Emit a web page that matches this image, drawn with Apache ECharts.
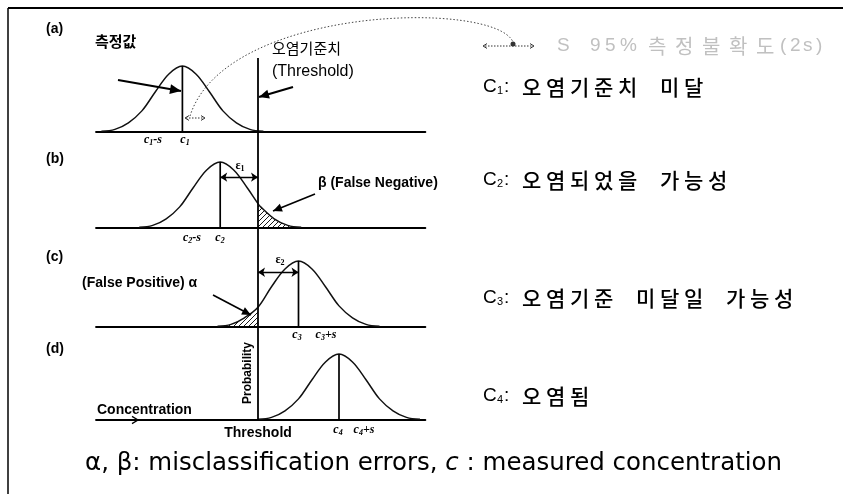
<!DOCTYPE html>
<html><head><meta charset="utf-8">
<script src="https://cdn.jsdelivr.net/npm/echarts@6/dist/echarts.min.js"></script>
<style>html,body{margin:0;padding:0;background:#fff}#c{width:843px;height:494px}</style>
</head><body><div id="c"></div>
<script>
// ---- DATA (x: concentration in units of s, threshold = 0; y: relative probability, peak = 1) ----
const curveA_x = [-5.8,-5.3,-4.8,-4.3,-3.8,-3.3,-2.8,-2.3,-1.8,-1.3,-0.8,-0.3,0.2];
const curveA_y = [0.01,0.04,0.14,0.32,0.61,0.88,1.00,0.88,0.61,0.32,0.14,0.04,0.01];
const curveB_x = [-4.4,-3.9,-3.4,-2.9,-2.4,-1.9,-1.4,-0.9,-0.4,0,0.1,0.6,1.1,1.6];
const curveB_y = [0.01,0.04,0.14,0.32,0.61,0.88,1.00,0.88,0.61,0.37,0.32,0.14,0.04,0.01];
const curveC_x = [-1.5,-1.0,-0.5,0,0.5,1.0,1.5,2.0,2.5,3.0,3.5,4.0,4.5];
const curveC_y = [0.01,0.04,0.14,0.30,0.61,0.88,1.00,0.88,0.61,0.32,0.14,0.04,0.01];
const curveD_x = [0,0.5,1.0,1.5,2.0,2.5,3.0,3.5,4.0,4.5,5.0,5.5,6.0];
const curveD_y = [0.01,0.04,0.14,0.32,0.61,0.88,1.00,0.88,0.61,0.32,0.14,0.04,0.01];
const centers = [-2.8,-1.4,1.5,3.0];      // c1..c4
const peakValue = 1.0;
const threshold = 0;
const eps1 = {from:-1.4, to:0, level:0.77};
const eps2 = {from:0, to:1.5, level:0.83};
const panelLabels = ['(a)','(b)','(c)','(d)'];
const caseLabels = [
  {n:'1', text:'오염기준치 미달'},
  {n:'2', text:'오염되었을 가능성'},
  {n:'3', text:'오염기준 미달일 가능성'},
  {n:'4', text:'오염됨'}
];
const uncertaintyLabel = ['S',' ','9','5','%','측','정','불','확','도','(','2','s',')'];
const noteText = ['α, β: misclassification errors, ', 'c', ' : measured concentration'];

// ---- LAYOUT ----
const gridTops = [58,132,228,327];
const baselines = [132,228,327,420];
const pxPerUnit = 66;
const GL = 96, GW = 329.4;

const pairs = (xs, ys) => xs.map((x,i)=>[x, ys[i]]);
const curves = [pairs(curveA_x,curveA_y), pairs(curveB_x,curveB_y), pairs(curveC_x,curveC_y), pairs(curveD_x,curveD_y)];
const hatchB = curves[1].filter(p=>p[0]>=threshold);
const hatchC = curves[2].filter(p=>p[0]<=threshold);

const pc = document.createElement('canvas'); pc.width = 5; pc.height = 5;
const g = pc.getContext('2d'); g.strokeStyle = '#000'; g.lineWidth = 0.9;
g.beginPath(); g.moveTo(0,5); g.lineTo(5,0); g.moveTo(-1,1); g.lineTo(1,-1); g.moveTo(4,6); g.lineTo(6,4); g.stroke();

const grids=[], xAxes=[], yAxes=[], series=[];
for (let i=0;i<4;i++){
  const h = baselines[i]-gridTops[i];
  grids.push({left:GL, top:gridTops[i], width:GW, height:h});
  xAxes.push({gridIndex:i, type:'value', min:-6, max:6.2, axisLine:{show:true, lineStyle:{color:'#000', width:1.8}}, axisTick:{show:false}, axisLabel:{show:false}, splitLine:{show:false}});
  yAxes.push({gridIndex:i, type:'value', min:0, max:h/pxPerUnit, show:false});
  series.push({type:'line', xAxisIndex:i, yAxisIndex:i, data:curves[i], smooth:0.35, symbol:'none', z:3,
    lineStyle:{color:'#111', width:1.5},
    markLine:{silent:true, symbol:'none', label:{show:false}, lineStyle:{color:'#000', width:1.8, type:'solid'}, data:[{xAxis:threshold}]}
  });
  const cl = {type:'line', xAxisIndex:i, yAxisIndex:i, data:[[centers[i],0],[centers[i],peakValue]], symbol:'none', lineStyle:{color:'#000', width:1.7}, z:3};
  const eps = i===1?eps1:(i===2?eps2:null);
  if (eps) cl.markLine = {silent:true, symbol:['arrow','arrow'], symbolSize:7, label:{show:false}, lineStyle:{color:'#000', width:1.4, type:'solid'},
      data:[[{coord:[eps.from,eps.level]},{coord:[eps.to,eps.level]}]]};
  series.push(cl);
}
const hatchStyle = {type:'line', symbol:'none', smooth:0.35, lineStyle:{width:0}, areaStyle:{color:{image:pc, repeat:'repeat'}, opacity:1}, z:2};
series.push(Object.assign({}, hatchStyle, {xAxisIndex:1, yAxisIndex:1, data:hatchB}));
series.push(Object.assign({}, hatchStyle, {xAxisIndex:2, yAxisIndex:2, data:hatchC}));

// ---- GRAPHIC ANNOTATIONS ----
const gr = [];
const SANS = '"Liberation Sans", Arial, sans-serif';
const KR = '"Noto Sans CJK KR", sans-serif';
function txt(text, x, y, font, opts){ gr.push(Object.assign({type:'text', silent:true, z:10, style:Object.assign({text, x, y, font, fill:'#000', textAlign:'left', textVerticalAlign:'middle'}, (opts&&opts.style)||{})}, (opts&&opts.el)||{})); }
function line(x1,y1,x2,y2,w,dash,color){ gr.push({type:'line', silent:true, z:10, shape:{x1,y1,x2,y2}, style:{stroke:color||'#000', lineWidth:w, lineDash:dash||null}}); }
function arrow(x1,y1,x2,y2,w,head){
  line(x1,y1,x2,y2,w);
  const a = Math.atan2(y2-y1,x2-x1), L=head||9, W=L*0.45;
  const bx = x2 - L*Math.cos(a), by = y2 - L*Math.sin(a);
  gr.push({type:'polygon', silent:true, z:10, shape:{points:[[x2,y2],[bx+W*Math.sin(a), by-W*Math.cos(a)],[bx-W*Math.sin(a), by+W*Math.cos(a)]]}, style:{fill:'#000'}});
}
function chevron(x,y,dir,s,color,w){ gr.push({type:'polyline', silent:true, z:10, shape:{points:[[x-dir*s,y-s*0.6],[x,y],[x-dir*s,y+s*0.6]]}, style:{stroke:color||'#000', lineWidth:w||1, fill:null}}); }

line(8,8,843,8,2.2); line(8,8,8,494,1.5);

const panelY = [29,159,257,349];
panelLabels.forEach((t,i)=>txt(t, 46, panelY[i], 'bold 14px '+SANS));

txt('측정값', 95, 41, 'bold 15px '+KR);
arrow(118,80,181,91,2.2,11);
txt('오염기준치', 272, 48, '15px '+KR);
txt('(Threshold)', 272, 72, '16px '+SANS);
arrow(293,87,259,97,2.2,10);
line(186,118,204,118,1,[1.5,1.5],'#333'); chevron(205,118,1,4,'#333',1); chevron(185,118,-1,4,'#333',1);
gr.push({type:'bezierCurve', silent:true, z:10, shape:{x1:190,y1:116,cpx1:225,cpy1:5,cpx2:495,cpy2:0,x2:513,y2:42}, style:{stroke:'#444', lineWidth:1, lineDash:[1.5,2], fill:null}});
gr.push({type:'circle', silent:true, z:10, shape:{cx:513, cy:44, r:2.5}, style:{fill:'#333'}});
line(485,46,532,46,1,[1.5,1.5],'#333'); chevron(534,46,1,4,'#333',1); chevron(483,46,-1,4,'#333',1);
// faint uncertainty label, one glyph at a time (wide spacing as in source)
const uncX = [557,575,590,605,620,648,675,702,729,756,780,790,803,816];
uncertaintyLabel.forEach((ch,i)=>{ if(ch!==' ') txt(ch, uncX[i], 46, (/[가-힣]/.test(ch)?'20px '+KR:'19px '+SANS), {style:{fill:'#c0c0c0'}}); });

const ital = 'italic bold 12px "Liberation Serif", serif';
function clab(str, cx, y){ txt(str, cx, y, ital, {style:{textAlign:'center', rich:{i:{font:ital}, s:{font:'italic bold 8px "Liberation Serif", serif', padding:[5,0,0,0]}}}}); }
clab('{i|c}{s|1}{i|-s}', 153, 140); clab('{i|c}{s|1}', 185, 140);
clab('{i|c}{s|2}{i|-s}', 192, 238); clab('{i|c}{s|2}', 220, 238);
clab('{i|c}{s|3}', 297, 335); clab('{i|c}{s|3}{i|+s}', 326, 335);
clab('{i|c}{s|4}', 338, 430); clab('{i|c}{s|4}{i|+s}', 364, 430);

const epsRich = {e:{font:'bold 12px "Liberation Serif", serif'}, s:{font:'bold 8px "Liberation Serif", serif', padding:[5,0,0,0]}};
txt('{e|ε}{s|1}', 240, 166, '', {style:{textAlign:'center', rich:epsRich}});
txt('{e|ε}{s|2}', 280, 260, '', {style:{textAlign:'center', rich:epsRich}});

txt('β (False Negative)', 318, 183, 'bold 14px '+SANS);
arrow(315,194,273,211,1.6,9);
txt('(False Positive) α', 82, 283, 'bold 14px '+SANS);
arrow(213,295,251,315,1.6,9);
txt('Concentration', 97, 410, 'bold 14px '+SANS);
chevron(138,420,1,6,'#000',1.3);
txt('Threshold', 258, 433, 'bold 14px '+SANS, {style:{textAlign:'center'}});
txt('Probability', 0, 0, 'bold 12px '+SANS, {style:{textAlign:'center'}, el:{x:248, y:373, rotation:Math.PI/2}});

const caseY = [87,180,298,396];
caseLabels.forEach((c,i)=>{
  const y = caseY[i];
  txt('C', 483, y, '19px '+SANS);
  txt(c.n, 497, y+4, '11px '+SANS);
  txt(':', 504, y, '19px '+SANS);
  let x = 522;
  for (const ch of c.text){
    if (ch===' ') { x += 18; continue; }
    txt(ch, x, y, '500 21px '+KR);
    x += 24;
  }
});

// bottom note: fit to the source's text span (x 85..782)
const NOTE = '"DejaVu Sans", sans-serif';
const mc = document.createElement('canvas').getContext('2d');
mc.font = '24px '+NOTE; let wN = mc.measureText(noteText[0]+noteText[2]).width;
mc.font = 'italic 24px '+NOTE; wN += mc.measureText(noteText[1]).width;
const noteSize = (24*697/wN).toFixed(2);
txt('{n|'+noteText[0]+'}{c|'+noteText[1]+'}{n|'+noteText[2]+'}', 85, 464, '', {style:{rich:{n:{font:noteSize+'px '+NOTE}, c:{font:'italic '+noteSize+'px '+NOTE}}}});

const chart = echarts.init(document.getElementById('c'), null, {renderer:'canvas'});
chart.setOption({animation:false, backgroundColor:'#fff', grid:grids, xAxis:xAxes, yAxis:yAxes, series, graphic:gr});
</script></body></html>
